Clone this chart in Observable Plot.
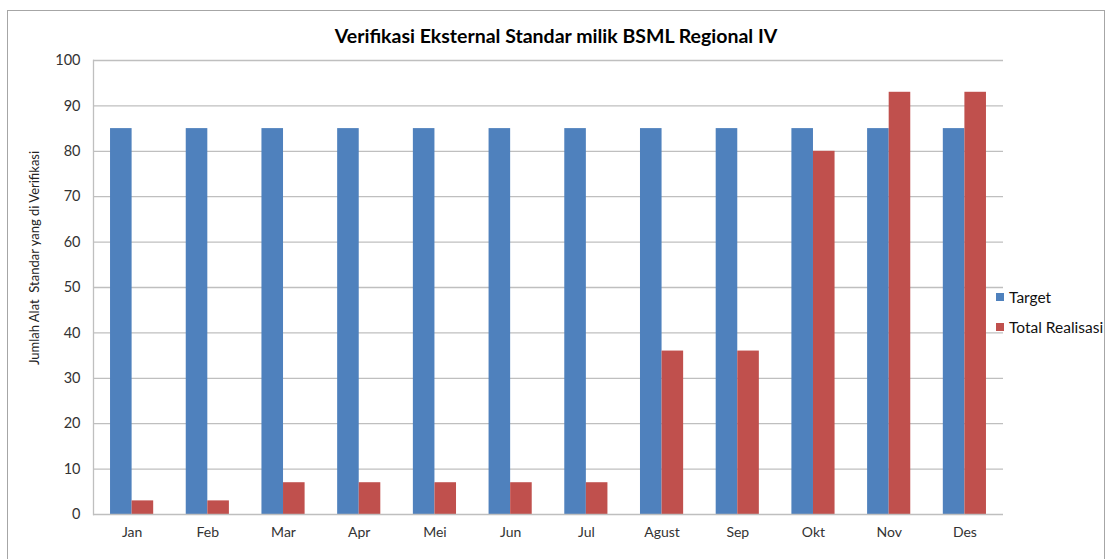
<!DOCTYPE html>
<html>
<head>
<meta charset="utf-8">
<script src="https://cdn.jsdelivr.net/npm/d3@7"></script>
<script src="https://cdn.jsdelivr.net/npm/@observablehq/plot@0.6"></script>
<style>
  html, body { margin: 0; padding: 0; background: #fff; }
  #wrap { position: relative; width: 1106px; height: 559px; overflow: hidden; font-family: Lato, "Open Sans", sans-serif; }
  #frame { position: absolute; left: 7px; top: 10px; width: 1096px; height: 560px; border: 1.5px solid #a6a6a6; }
  #title { position: absolute; left: 0; width: 1112px; top: 24px; text-align: center; font-weight: bold; font-size: 19.5px; color: #000; }
  #ylabel { position: absolute; left: 34px; top: 258px; transform: translate(-50%, -50%) rotate(-90deg); white-space: pre; font-size: 13px; color: #222; }
  #plot { position: absolute; left: 0; top: 0; }
  #legend { position: absolute; left: 996px; top: 282px; font-size: 15.5px; color: #111; }
  .item { display: flex; align-items: center; height: 30px; }
  .sw { width: 8px; height: 8px; margin-right: 5px; }
</style>
</head>
<body>
<div id="wrap">
  <div id="frame"></div>
  <div id="plot"></div>
  <div id="title"></div>
  <div id="ylabel"></div>
  <div id="legend"></div>
</div>
<script>
const months = ["Jan","Feb","Mar","Apr","Mei","Jun","Jul","Agust","Sep","Okt","Nov","Des"];
const seriesNames = ["Target","Total Realisasi"];
const targetValues = [85,85,85,85,85,85,85,85,85,85,85,85];
const realisasiValues = [3,3,7,7,7,7,7,36,36,80,93,93];
const yTicks = [0,10,20,30,40,50,60,70,80,90,100];
const colors = ["#4f81bd","#c0504d"];
const titleText = "Verifikasi Eksternal Standar milik BSML Regional IV";
const yLabelText = "Jumlah Alat  Standar yang di Verifikasi";

const W = 1106, H = 559, mL = 93, mR = 103, mT = 60, mB = 45;
const padIn = 0.43, padOut = 0.225;
const step = (W - mL - mR) / (months.length - padIn + 2 * padOut);
const half = step * (1 - padIn) / 2;

const targetData = months.map((m, i) => ({month: m, series: seriesNames[0], value: targetValues[i]}));
const realData = months.map((m, i) => ({month: m, series: seriesNames[1], value: realisasiValues[i]}));

const chart = Plot.plot({
  width: W,
  height: H,
  marginLeft: mL,
  marginRight: mR,
  marginTop: mT,
  marginBottom: mB,
  style: {fontFamily: "Lato, 'Open Sans', sans-serif", fontSize: "13px", color: "#333", background: "transparent"},
  x: {domain: months, paddingInner: padIn, paddingOuter: padOut, round: false},
  y: {domain: [0, 100]},
  color: {domain: seriesNames, range: colors},
  marks: [
    Plot.ruleY(yTicks.filter(d => d > 0), {stroke: "#bfbfbf", strokeWidth: 1.3}),
    Plot.barY(targetData, {x: "month", y: "value", fill: "series", insetRight: half}),
    Plot.barY(realData, {x: "month", y: "value", fill: "series", insetLeft: half}),
    Plot.ruleY([0], {stroke: "#bfbfbf", strokeWidth: 1.3}),
    Plot.frame({anchor: "left", stroke: "#bfbfbf", strokeWidth: 1.3}),
    Plot.axisY({ticks: yTicks, tickSize: 0, tickPadding: 13, label: null, fontSize: 14.5}),
    Plot.axisX({tickSize: 0, tickPadding: 13, label: null, fontSize: 14})
  ]
});
document.getElementById("plot").appendChild(chart);
document.getElementById("title").textContent = titleText;
document.getElementById("ylabel").textContent = yLabelText;
const legend = document.getElementById("legend");
seriesNames.forEach((s, i) => {
  const it = document.createElement("div");
  it.className = "item";
  const sw = document.createElement("div");
  sw.className = "sw";
  sw.style.background = colors[i];
  const t = document.createElement("span");
  t.textContent = s;
  it.appendChild(sw); it.appendChild(t);
  legend.appendChild(it);
});
</script>
</body>
</html>
